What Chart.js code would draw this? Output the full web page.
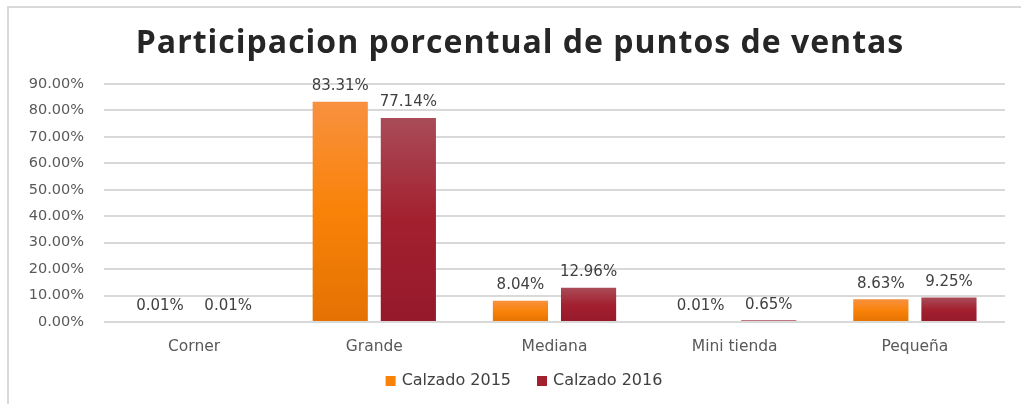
<!DOCTYPE html>
<html>
<head>
<meta charset="utf-8">
<script src="https://cdn.jsdelivr.net/npm/chart.js@4"></script>
<style>
  body { margin: 0; background: #fff; }
  .wrap { position: relative; width: 1021px; height: 404px; overflow: hidden; }
  .frame { position: absolute; left: 7px; top: 6px; width: 1040px; height: 420px; border-left: 2px solid #d9d9d9; border-top: 2px solid #d9d9d9; }
  canvas { position: absolute; left: 0; top: 0; }
</style>
</head>
<body>
<div class="wrap">
  <div class="frame"></div>
  <canvas id="chart" width="1021" height="404"></canvas>
</div>
<script>
const categories = ['Corner', 'Grande', 'Mediana', 'Mini tienda', 'Pequeña']
const calzado2015 = [0.01, 83.31, 8.04, 0.01, 8.63]
const calzado2016 = [0.01, 77.14, 12.96, 0.65, 9.25]
const yTicks = [0, 10, 20, 30, 40, 50, 60, 70, 80, 90]

const textFont = 'DejaVu Sans'
const legendColors = ['#f98208', '#a3202f']

// degradado por barra, de arriba hacia abajo
function barGradient(colors) {
  return function (context) {
    const chart = context.chart
    const y = chart.scales.y
    if (!y || !context.parsed) return colors[1]
    const top = y.getPixelForValue(context.parsed.y)
    const bottom = y.getPixelForValue(0)
    if (!isFinite(top) || !isFinite(bottom)) return colors[1]
    if (bottom - top < 0.5) return 'rgba(0,0,0,0)' // barras casi nulas no se ven
    if (bottom - top < 2) return colors[0]
    const g = chart.ctx.createLinearGradient(0, top, 0, bottom)
    g.addColorStop(0, colors[0])
    g.addColorStop(0.5, colors[1])
    g.addColorStop(1, colors[2])
    return g
  }
}

// etiquetas de valores encima de las barras
const valueLabels = {
  id: 'valueLabels',
  afterDatasetsDraw(chart) {
    const ctx = chart.ctx
    ctx.save()
    ctx.font = '15px ' + textFont
    ctx.fillStyle = '#404040'
    ctx.textAlign = 'center'
    ctx.textBaseline = 'bottom'
    chart.data.datasets.forEach((ds, i) => {
      chart.getDatasetMeta(i).data.forEach((bar, j) => {
        ctx.fillText(ds.data[j].toFixed(2) + '%', bar.x, bar.y - 8)
      })
    })
    ctx.restore()
  }
}

// título y leyenda dibujados a mano
const titleLegend = {
  id: 'titleLegend',
  afterDraw(chart) {
    const ctx = chart.ctx
    ctx.save()
    ctx.font = 'bold 32px "Open Sans"'
    ctx.letterSpacing = '1px'
    ctx.fillStyle = '#262626'
    ctx.textAlign = 'center'
    ctx.textBaseline = 'middle'
    ctx.fillText('Participacion porcentual de puntos de ventas', 520, 44)
    ctx.restore()

    ctx.save()
    ctx.font = '16px ' + textFont
    ctx.textBaseline = 'middle'
    ctx.textAlign = 'left'
    const box = 10, gapText = 6, gapItem = 26, yMid = 381
    const items = chart.data.datasets.map((ds, i) => ({ text: ds.label, color: legendColors[i], w: ctx.measureText(ds.label).width }))
    const total = items.reduce((s, it) => s + box + gapText + it.w, 0) + gapItem * (items.length - 1)
    let x = 524 - total / 2
    items.forEach(it => {
      ctx.fillStyle = it.color
      ctx.fillRect(x, yMid - box / 2, box, box)
      ctx.fillStyle = '#404040'
      ctx.fillText(it.text, x + box + gapText, yMid)
      x += box + gapText + it.w + gapItem
    })
    ctx.restore()
  }
}

const ctx = document.getElementById('chart').getContext('2d')
new Chart(ctx, {
  type: 'bar',
  data: {
    labels: categories,
    datasets: [{
      label: 'Calzado 2015',
      data: calzado2015,
      backgroundColor: barGradient(['#f8913f', '#f98208', '#e47203']),
      borderWidth: 0
    }, {
      label: 'Calzado 2016',
      data: calzado2016,
      backgroundColor: barGradient(['#a94c58', '#a3202f', '#95192b']),
      borderWidth: 0
    }]
  },
  options: {
    responsive: false,
    animation: false,
    categoryPercentage: 0.756,
    barPercentage: 0.81,
    layout: { padding: { top: 84, right: 16, bottom: 44, left: 0 } },
    scales: {
      x: {
        grid: { display: false },
        border: { display: false },
        ticks: { color: '#595959', font: { family: textFont, size: 15.5 }, padding: 8 },
        afterFit: s => { s.height = 38 }
      },
      y: {
        min: 0,
        max: 90,
        afterBuildTicks: s => { s.ticks = yTicks.map(v => ({ value: v })) },
        grid: { color: '#d9d9d9', lineWidth: 2, drawTicks: false },
        border: { display: false },
        ticks: {
          color: '#595959',
          font: { family: textFont, size: 14.5 },
          padding: 20,
          callback: v => v.toFixed(2) + '%'
        },
        afterFit: s => { s.width = 104 }
      }
    },
    plugins: {
      legend: { display: false },
      tooltip: { enabled: false }
    }
  },
  plugins: [valueLabels, titleLegend]
})
</script>
</body>
</html>
